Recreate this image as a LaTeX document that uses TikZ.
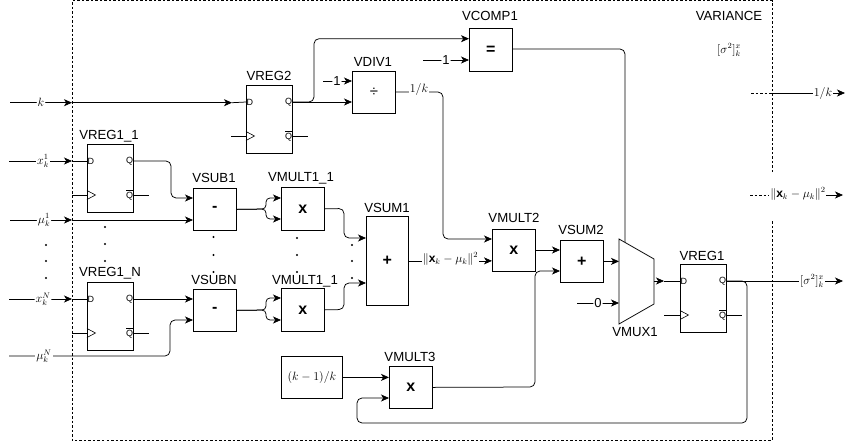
\documentclass[tikz,border=0pt]{standalone}
\usepackage{fontspec}
\setmainfont{Liberation Sans}
\usetikzlibrary{arrows.meta,positioning,calc}
\tikzset{
  wire/.style={line width=0.75pt,rounded corners=5pt},
  arr/.style={wire,-{Stealth[length=8pt,width=7pt,inset=2.2pt]}},
  opbox/.style={draw,line width=0.75pt,inner sep=0pt,minimum width=43pt,font=\bfseries\fontsize{16}{16}\selectfont},
  title/.style={inner sep=0pt,font=\fontsize{13.2}{13.2}\selectfont},
  lab/.style={inner sep=1pt,fill=white,font=\fontsize{12}{12}\selectfont},
  numlab/.style={inner sep=1pt,fill=white,font=\fontsize{13}{13}\selectfont},
  pinlab/.style={inner sep=0pt,font=\fontsize{9}{9}\selectfont},
  ffbox/.style={draw,line width=0.75pt,minimum width=46pt,minimum height=68pt,inner sep=0pt},
  frameline/.style={line width=0.75pt,dash pattern=on 2.5pt off 2pt},
  dotm/.style={circle,fill=black,inner sep=0pt,minimum size=2.2pt},
}
\newcommand{\flipflop}[3]{% name, left x, top y
  \node[ffbox,anchor=north west] (#1) at (#2,#3) {};
  \coordinate (#1-d) at ($(#1.north west)+(0,17)$);
  \coordinate (#1-c) at ($(#1.north west)+(0,51)$);
  \coordinate (#1-q) at ($(#1.north east)+(0,17)$);
  \coordinate (#1-n) at ($(#1.north east)+(0,51)$);
  \node[pinlab,anchor=west] (#1-dl) at ($(#1-d)+(0.5,0)$) {D};
  \node[pinlab,anchor=east] (#1-ql) at ($(#1-q)+(-0.5,0)$) {Q};
  \node[pinlab,anchor=east] (#1-nl) at ($(#1-n)+(-0.5,0)$) {$\overline{\mbox{Q}}$};
  \draw[line width=0.6pt] ($(#1-c)+(0,4.5)$) -- ($(#1-c)+(8.5,0)$) -- ($(#1-c)+(0,-4.5)$);
  \draw[wire] (#1-n) -- ++(15,0);
}
\begin{document}
\begin{tikzpicture}[x=1pt,y=-1pt]
\useasboundingbox (0,0) rectangle (845,445);
% frame
\draw[frameline] (772,172) -- (772,0.5) -- (72,0.5) -- (72,440) -- (772,440) -- (772,220);
\node[title] (tvar) at (729,16) {VARIANCE};
\node[lab] (tsig) at (729,50) {$[\sigma^2]_k^x$};

% flip-flops
\flipflop{vregii}{246}{85}
\flipflop{vregA}{87}{144}
\flipflop{vregN}{87}{282}
\flipflop{vregi}{680}{264}
\node[title] at (269,76) (tvregii) {VREG2};
\node[title] at (109,136) (tvregA) {VREG1\_1};
\node[title] at (110,273) (tvregN) {VREG1\_N};
\node[title] at (702,256) (tvregi) {VREG1};

% boxes
\node[opbox,minimum height=43pt,anchor=north west] (vcomp) at (469,28) {=};
\node[opbox,minimum height=42pt,anchor=north west,font=\fontsize{15}{15}\selectfont] (vdiv) at (352,71) {÷};
\node[opbox,minimum height=42pt,anchor=north west] (vsubA) at (193,188) {-};
\node[opbox,minimum height=42pt,anchor=north west] (vsubN) at (193,289) {-};
\node[opbox,minimum height=43pt,anchor=north west] (vmulA) at (281,187) {x};
\node[opbox,minimum height=43pt,anchor=north west] (vmulN) at (281,288) {x};
\node[opbox,minimum width=42pt,minimum height=89pt,anchor=north west] (vsumi) at (366,216) {+};
\node[opbox,minimum height=42pt,anchor=north west] (vmulii) at (492,229) {x};
\node[opbox,minimum height=42pt,anchor=north west] (vsumii) at (560,240) {+};
\node[opbox,minimum height=42pt,anchor=north west] (vmuliii) at (389,366) {x};
\node[draw,line width=0.75pt,inner sep=0pt,minimum width=61pt,minimum height=42pt,anchor=north west,font=\fontsize{12}{12}\selectfont] (kbox) at (281,356) {$(k-1)/k$};
\coordinate (mA) at (619,239);
\coordinate (mB) at (654,259);
\coordinate (mC) at (654,304);
\coordinate (mD) at (619,324);

% box names
\node[title] at (490,16) (tcomp) {VCOMP1};
\node[title] at (373,62) (tdiv) {VDIV1};
\node[title] at (214,178) (tsubA) {VSUB1};
\node[title] at (214,280) (tsubN) {VSUBN};
\node[title] at (301,178) (tmulA) {VMULT1\_1};
\node[title] at (305,281) (tmulN) {VMULT1\_1};
\node[title] at (387,208) (tsumi) {VSUM1};
\node[title] at (514,218) (tmulii) {VMULT2};
\node[title] at (581,230) (tsumii) {VSUM2};
\node[title] at (410,357) (tmuliii) {VMULT3};
\node[title] at (635,332) (tmux) {VMUX1};

% free ends and junctions
\coordinate (ink) at (10,102.7);
\coordinate (bk) at (72,102.7);
\coordinate (tipk) at (232,102.7);
\coordinate (inxA) at (9,161);
\coordinate (bxA) at (72,161);
\coordinate (inmA) at (10,220);
\coordinate (bmA) at (72,220);
\coordinate (inxN) at (9,299);
\coordinate (bxN) at (72,299);
\coordinate (inmN) at (9,356);
\coordinate (clkA) at (72,195);
\coordinate (clkN) at (72,333);
\coordinate (clkii) at (231,136);
\coordinate (clki) at (664,315);

% inputs
\draw[arr] (ink) -- node[lab,pos=0.5] (lk) {$k$} (bk);
\draw[arr] (bk) -- (tipk);
\draw[wire] (tipk) -- (vregii-d);
\draw[arr] (inxA) -- node[lab,pos=0.54] (lxA) {$x_k^1$} (bxA);
\draw[wire] (bxA) -- (vregA-d);
\draw[arr] (inmA) -- node[lab,pos=0.55] (lmA) {$\mu_k^1$} (bmA);
\draw[arr] (bmA) -- (vsubA.west |- bmA);
\draw[arr] (inxN) -- node[lab,pos=0.54] (lxN) {$x_k^N$} (bxN);
\draw[wire] (bxN) -- (vregN-d);
\draw[arr] (inmN) -- (170,356) -- (170,320) -- (vsubN.west |- 0,320);
\node[lab] (lmN) at (44,356) {$\mu_k^N$};
\draw[wire] (clkA) -- (vregA-c);
\draw[wire] (clkN) -- (vregN-c);
\draw[wire] (clkii) -- (vregii-c);
\draw[wire] (clki) -- (vregi-c);

% flip-flop outputs
\draw[arr] (vregA-q) -- (171,161) -- (171,198) -- (vsubA.west |- 0,198);
\draw[arr] (vregN-q) -- (vsubN.west |- vregN-q);
\draw[arr] (vregii-q) -- (314,102) -- (314,38.7) -- (vcomp.west |- 0,38.7);
\draw[arr] (vregii-q) -- (vdiv.west |- vregii-q);

% constants
\coordinate (cdiv) at (323,81);
\coordinate (ccomp) at (423,60);
\coordinate (czero) at (577,303);
\draw[arr] (cdiv) -- node[numlab,pos=0.48] (l1a) {1} (vdiv.west |- cdiv);
\draw[arr] (ccomp) -- node[numlab,pos=0.5] (l1b) {1} (vcomp.west |- ccomp);
\draw[arr] (czero) -- node[numlab,pos=0.5] (l0) {0} (mA |- czero);

% VDIV to VMULT2
\draw[arr] (vdiv.east |- 0,92) -- (443,92) -- (443,239) -- (vmulii.west |- 0,239);
\node[lab] (ldiv) at (419,89) {$1/k$};

% forks
\draw[arr,rounded corners=4pt] (vsubA.east) -- (266,209) -- (266,198) -- (vmulA.west |- 0,198);
\draw[arr,rounded corners=4pt] (vsubA.east) -- (266,209) -- (266,219) -- (vmulA.west |- 0,219);
\draw[arr,rounded corners=4pt] (vsubN.east) -- (266,310) -- (266,298) -- (vmulN.west |- 0,298);
\draw[arr,rounded corners=4pt] (vsubN.east) -- (266,310) -- (266,320) -- (vmulN.west |- 0,320);

% to VSUM1
\draw[arr] (vmulA.east) -- (344,208.5) -- (344,238) -- (vsumi.west |- 0,238);
\draw[arr] (vmulN.east) -- (344,309.5) -- (344,283) -- (vsumi.west |- 0,283);
\draw[arr] (vsumi.east) -- (vmulii.west |- vsumi.east);
\node[lab] (lnorm) at (450.5,259) {$\|\mathbf{x}_k-\mu_k\|^2$};

% to VSUM2 and the multiplexer
\draw[arr] (vmulii.east |- 0,250) -- (vsumii.west |- 0,250);
\draw[arr] (vmuliii.east) -- (535,387) -- (535,271) -- (vsumii.west |- 0,271);
\draw[wire] (vcomp.east |- 0,49) -- (625,49) -- (625,243);
\draw[line width=0.75pt,fill=white] (mA) -- (mB) -- (mC) -- (mD) -- cycle;
\draw[arr] (vsumii.east) -- (mA |- vsumii.east);
\coordinate (muxout) at (654,281);
\coordinate (muxtip) at (664,281);
\draw[arr] (muxout) -- (muxtip);
\draw[wire] (muxtip) -- (vregi-d);

% VMULT3
\draw[arr] (kbox.east) -- (vmuliii.west |- kbox.east);
\draw[arr] (vregi-q) -- (747,281) -- (747,423) -- (357,423) -- (357,398) -- (vmuliii.west |- 0,398);
\coordinate (outs) at (843,281);
\draw[arr] (vregi-q) -- (outs);
\node[lab] (lsig) at (812,281) {$[\sigma^2]_k^x$};

% right side outputs
\coordinate (ra) at (751,93);
\coordinate (rb) at (772,93);
\coordinate (rc) at (845,93);
\draw[frameline] (ra) -- (rb);
\draw[arr] (rb) -- (rc);
\node[lab] (lrk) at (823,93) {$1/k$};
\coordinate (rd) at (750,195);
\coordinate (re) at (769,195);
\coordinate (rf) at (843,195);
\draw[frameline] (rd) -- (re);
\draw[arr] (826,195) -- (rf);
\node[lab,fill=none] (lrn) at (798,194) {$\|\mathbf{x}_k-\mu_k\|^2$};

% continuation dots
\foreach \i/\x/\y in {a/46/245,b/46/261,c/46/278,d/105/227,e/105/244,f/105/261,
  g/213.5/237,h/213.5/255,i/213.5/272,j/297/238,k/297/255,l/297/272,m/352/245,n/352/261,o/352/278}
  \node[dotm] (dot\i) at (\x,\y) {};
\end{tikzpicture}
\end{document}
